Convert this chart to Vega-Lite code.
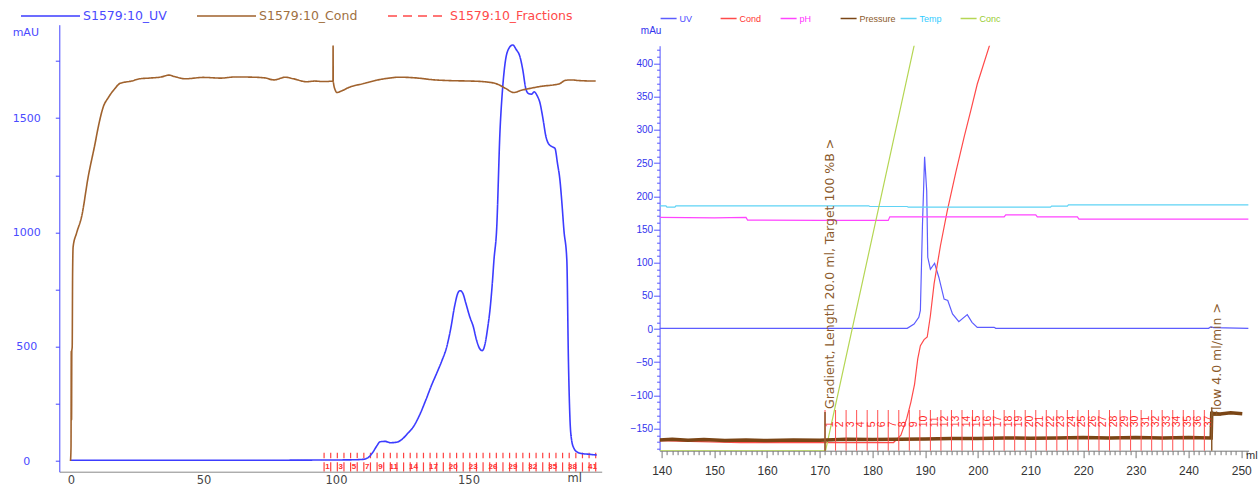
{
  "$schema": "https://vega.github.io/schema/vega-lite/v6.json",
  "autosize": {"type": "none"},
  "padding": {"left": 59.3, "top": 24.7, "right": 1199.7, "bottom": 461.3},
  "background": "white",
  "bounds": "flush",
  "center": true,
  "spacing": 57.3,
  "config": {
    "view": {"stroke": null},
    "axis": {"grid": false, "titleFontWeight": "normal", "labelFlush": false, "labelOverlap": false},
    "font": "Liberation Sans"
  },
  "resolve": {"scale": {"color": "independent", "strokeDash": "independent"}, "legend": {"color": "independent", "strokeDash": "independent"}},
  "datasets": {
    "left": [
      {"series": "S1579:10_UV", "ml": 0, "value": 3},
      {"series": "S1579:10_UV", "ml": 10, "value": 3},
      {"series": "S1579:10_UV", "ml": 30, "value": 3},
      {"series": "S1579:10_UV", "ml": 60, "value": 3},
      {"series": "S1579:10_UV", "ml": 90, "value": 4},
      {"series": "S1579:10_UV", "ml": 105, "value": 5},
      {"series": "S1579:10_UV", "ml": 110, "value": 7},
      {"series": "S1579:10_UV", "ml": 112, "value": 14},
      {"series": "S1579:10_UV", "ml": 114, "value": 40},
      {"series": "S1579:10_UV", "ml": 115.5, "value": 68},
      {"series": "S1579:10_UV", "ml": 116.6, "value": 84},
      {"series": "S1579:10_UV", "ml": 118.5, "value": 86},
      {"series": "S1579:10_UV", "ml": 120.5, "value": 80},
      {"series": "S1579:10_UV", "ml": 122.9, "value": 82},
      {"series": "S1579:10_UV", "ml": 125, "value": 96},
      {"series": "S1579:10_UV", "ml": 127, "value": 120},
      {"series": "S1579:10_UV", "ml": 129.2, "value": 150},
      {"series": "S1579:10_UV", "ml": 131.5, "value": 200},
      {"series": "S1579:10_UV", "ml": 134, "value": 270},
      {"series": "S1579:10_UV", "ml": 136, "value": 330},
      {"series": "S1579:10_UV", "ml": 138, "value": 384},
      {"series": "S1579:10_UV", "ml": 140, "value": 440},
      {"series": "S1579:10_UV", "ml": 141.8, "value": 500},
      {"series": "S1579:10_UV", "ml": 143.3, "value": 580},
      {"series": "S1579:10_UV", "ml": 144.8, "value": 680},
      {"series": "S1579:10_UV", "ml": 146, "value": 735},
      {"series": "S1579:10_UV", "ml": 146.8, "value": 745},
      {"series": "S1579:10_UV", "ml": 147.8, "value": 735},
      {"series": "S1579:10_UV", "ml": 149, "value": 690},
      {"series": "S1579:10_UV", "ml": 150.5, "value": 630},
      {"series": "S1579:10_UV", "ml": 151.8, "value": 588},
      {"series": "S1579:10_UV", "ml": 153, "value": 530},
      {"series": "S1579:10_UV", "ml": 154.2, "value": 492},
      {"series": "S1579:10_UV", "ml": 155.2, "value": 483},
      {"series": "S1579:10_UV", "ml": 156.2, "value": 510},
      {"series": "S1579:10_UV", "ml": 157.2, "value": 580},
      {"series": "S1579:10_UV", "ml": 158.1, "value": 661},
      {"series": "S1579:10_UV", "ml": 159, "value": 780},
      {"series": "S1579:10_UV", "ml": 159.6, "value": 879},
      {"series": "S1579:10_UV", "ml": 160.6, "value": 1010},
      {"series": "S1579:10_UV", "ml": 161.9, "value": 1448},
      {"series": "S1579:10_UV", "ml": 162.8, "value": 1620},
      {"series": "S1579:10_UV", "ml": 163.8, "value": 1740},
      {"series": "S1579:10_UV", "ml": 165, "value": 1800},
      {"series": "S1579:10_UV", "ml": 166.7, "value": 1820},
      {"series": "S1579:10_UV", "ml": 168, "value": 1800},
      {"series": "S1579:10_UV", "ml": 169.4, "value": 1769},
      {"series": "S1579:10_UV", "ml": 170.5, "value": 1710},
      {"series": "S1579:10_UV", "ml": 171.6, "value": 1630},
      {"series": "S1579:10_UV", "ml": 172.6, "value": 1608},
      {"series": "S1579:10_UV", "ml": 173.8, "value": 1605},
      {"series": "S1579:10_UV", "ml": 174.8, "value": 1615},
      {"series": "S1579:10_UV", "ml": 175.8, "value": 1600},
      {"series": "S1579:10_UV", "ml": 177, "value": 1565},
      {"series": "S1579:10_UV", "ml": 178.2, "value": 1490},
      {"series": "S1579:10_UV", "ml": 179.2, "value": 1420},
      {"series": "S1579:10_UV", "ml": 180.1, "value": 1390},
      {"series": "S1579:10_UV", "ml": 181.5, "value": 1375},
      {"series": "S1579:10_UV", "ml": 182.6, "value": 1368},
      {"series": "S1579:10_UV", "ml": 183.6, "value": 1300},
      {"series": "S1579:10_UV", "ml": 184.5, "value": 1229},
      {"series": "S1579:10_UV", "ml": 185.3, "value": 1120},
      {"series": "S1579:10_UV", "ml": 186, "value": 1010},
      {"series": "S1579:10_UV", "ml": 187.1, "value": 879},
      {"series": "S1579:10_UV", "ml": 187.7, "value": 442},
      {"series": "S1579:10_UV", "ml": 188.3, "value": 180},
      {"series": "S1579:10_UV", "ml": 188.9, "value": 92},
      {"series": "S1579:10_UV", "ml": 189.8, "value": 55},
      {"series": "S1579:10_UV", "ml": 190.8, "value": 41},
      {"series": "S1579:10_UV", "ml": 192.5, "value": 33},
      {"series": "S1579:10_UV", "ml": 195, "value": 30},
      {"series": "S1579:10_UV", "ml": 198.4, "value": 26},
      {"series": "S1579:10_Cond", "ml": -0.2, "value": 0},
      {"series": "S1579:10_Cond", "ml": 0.0, "value": 60},
      {"series": "S1579:10_Cond", "ml": 0.1, "value": 480},
      {"series": "S1579:10_Cond", "ml": 0.2, "value": 180},
      {"series": "S1579:10_Cond", "ml": 0.3, "value": 480},
      {"series": "S1579:10_Cond", "ml": 0.45, "value": 500},
      {"series": "S1579:10_Cond", "ml": 0.6, "value": 820},
      {"series": "S1579:10_Cond", "ml": 0.8, "value": 937},
      {"series": "S1579:10_Cond", "ml": 2.1, "value": 997},
      {"series": "S1579:10_Cond", "ml": 4.0, "value": 1069},
      {"series": "S1579:10_Cond", "ml": 6.5, "value": 1244},
      {"series": "S1579:10_Cond", "ml": 9.1, "value": 1390},
      {"series": "S1579:10_Cond", "ml": 10.3, "value": 1462},
      {"series": "S1579:10_Cond", "ml": 12.2, "value": 1550},
      {"series": "S1579:10_Cond", "ml": 14.1, "value": 1590},
      {"series": "S1579:10_Cond", "ml": 16.6, "value": 1630},
      {"series": "S1579:10_Cond", "ml": 18.5, "value": 1652},
      {"series": "S1579:10_Cond", "ml": 22.8, "value": 1662},
      {"series": "S1579:10_Cond", "ml": 26, "value": 1672},
      {"series": "S1579:10_Cond", "ml": 29.5, "value": 1675},
      {"series": "S1579:10_Cond", "ml": 34, "value": 1680},
      {"series": "S1579:10_Cond", "ml": 37, "value": 1688},
      {"series": "S1579:10_Cond", "ml": 39, "value": 1682},
      {"series": "S1579:10_Cond", "ml": 43, "value": 1672},
      {"series": "S1579:10_Cond", "ml": 50, "value": 1678},
      {"series": "S1579:10_Cond", "ml": 56.5, "value": 1675},
      {"series": "S1579:10_Cond", "ml": 62, "value": 1680},
      {"series": "S1579:10_Cond", "ml": 68.6, "value": 1679},
      {"series": "S1579:10_Cond", "ml": 73, "value": 1676},
      {"series": "S1579:10_Cond", "ml": 76.7, "value": 1667},
      {"series": "S1579:10_Cond", "ml": 80.8, "value": 1679},
      {"series": "S1579:10_Cond", "ml": 84, "value": 1672},
      {"series": "S1579:10_Cond", "ml": 88.8, "value": 1659},
      {"series": "S1579:10_Cond", "ml": 92, "value": 1662},
      {"series": "S1579:10_Cond", "ml": 95, "value": 1660},
      {"series": "S1579:10_Cond", "ml": 98.85, "value": 1662},
      {"series": "S1579:10_Cond", "ml": 98.9, "value": 1815},
      {"series": "S1579:10_Cond", "ml": 98.95, "value": 1662},
      {"series": "S1579:10_Cond", "ml": 99.8, "value": 1620},
      {"series": "S1579:10_Cond", "ml": 100.3, "value": 1612},
      {"series": "S1579:10_Cond", "ml": 102.3, "value": 1620},
      {"series": "S1579:10_Cond", "ml": 105, "value": 1635},
      {"series": "S1579:10_Cond", "ml": 110.4, "value": 1651},
      {"series": "S1579:10_Cond", "ml": 115, "value": 1665},
      {"series": "S1579:10_Cond", "ml": 120, "value": 1675},
      {"series": "S1579:10_Cond", "ml": 123.9, "value": 1679},
      {"series": "S1579:10_Cond", "ml": 130, "value": 1676},
      {"series": "S1579:10_Cond", "ml": 137.4, "value": 1667},
      {"series": "S1579:10_Cond", "ml": 143, "value": 1664},
      {"series": "S1579:10_Cond", "ml": 150.8, "value": 1662},
      {"series": "S1579:10_Cond", "ml": 155, "value": 1660},
      {"series": "S1579:10_Cond", "ml": 160.3, "value": 1651},
      {"series": "S1579:10_Cond", "ml": 164, "value": 1630},
      {"series": "S1579:10_Cond", "ml": 167, "value": 1612},
      {"series": "S1579:10_Cond", "ml": 170, "value": 1622},
      {"series": "S1579:10_Cond", "ml": 172.4, "value": 1628},
      {"series": "S1579:10_Cond", "ml": 178, "value": 1640},
      {"series": "S1579:10_Cond", "ml": 182, "value": 1645},
      {"series": "S1579:10_Cond", "ml": 184.5, "value": 1651},
      {"series": "S1579:10_Cond", "ml": 186.5, "value": 1665},
      {"series": "S1579:10_Cond", "ml": 188.6, "value": 1667},
      {"series": "S1579:10_Cond", "ml": 192, "value": 1664},
      {"series": "S1579:10_Cond", "ml": 198, "value": 1662}
    ],
    "leftFrac": [
      {"n": 1, "ml": 95.5}, {"n": 2, "ml": 98}, {"n": 3, "ml": 100.5}, {"n": 4, "ml": 103}, {"n": 5, "ml": 105.5},
      {"n": 6, "ml": 108}, {"n": 7, "ml": 110.5}, {"n": 8, "ml": 113}, {"n": 9, "ml": 115.5}, {"n": 10, "ml": 118},
      {"n": 11, "ml": 120.5}, {"n": 12, "ml": 123}, {"n": 13, "ml": 125.5}, {"n": 14, "ml": 128}, {"n": 15, "ml": 130.5},
      {"n": 16, "ml": 133}, {"n": 17, "ml": 135.5}, {"n": 18, "ml": 138}, {"n": 19, "ml": 140.5}, {"n": 20, "ml": 143},
      {"n": 21, "ml": 145.5}, {"n": 22, "ml": 148}, {"n": 23, "ml": 150.5}, {"n": 24, "ml": 153}, {"n": 25, "ml": 155.5},
      {"n": 26, "ml": 158}, {"n": 27, "ml": 160.5}, {"n": 28, "ml": 163}, {"n": 29, "ml": 165.5}, {"n": 30, "ml": 168},
      {"n": 31, "ml": 170.5}, {"n": 32, "ml": 173}, {"n": 33, "ml": 175.5}, {"n": 34, "ml": 178}, {"n": 35, "ml": 180.5},
      {"n": 36, "ml": 183}, {"n": 37, "ml": 185.5}, {"n": 38, "ml": 188}, {"n": 39, "ml": 190.5}, {"n": 40, "ml": 193},
      {"n": 41, "ml": 195.5}, {"n": 42, "ml": 198}
    ],
    "leftFracLabels": [
      {"n": "1", "ml": 96.75}, {"n": "3", "ml": 101.75}, {"n": "5", "ml": 106.75}, {"n": "7", "ml": 111.75},
      {"n": "9", "ml": 116.75}, {"n": "11", "ml": 121.75}, {"n": "14", "ml": 129.25}, {"n": "17", "ml": 136.75},
      {"n": "20", "ml": 144.25}, {"n": "23", "ml": 151.75}, {"n": "26", "ml": 159.25}, {"n": "29", "ml": 166.75},
      {"n": "32", "ml": 174.25}, {"n": "35", "ml": 181.75}, {"n": "38", "ml": 189.25}, {"n": "41", "ml": 196.75}
    ],
    "right": [
      {"series": "UV", "ml": 139.6, "value": 1}, {"series": "UV", "ml": 186.6, "value": 1},
      {"series": "UV", "ml": 187.9, "value": 7.5}, {"series": "UV", "ml": 188.8, "value": 17.6},
      {"series": "UV", "ml": 189.1, "value": 28}, {"series": "UV", "ml": 189.5, "value": 158},
      {"series": "UV", "ml": 189.9, "value": 259.5}, {"series": "UV", "ml": 190.3, "value": 208},
      {"series": "UV", "ml": 190.5, "value": 108}, {"series": "UV", "ml": 191.0, "value": 90},
      {"series": "UV", "ml": 191.8, "value": 99}, {"series": "UV", "ml": 192.6, "value": 78},
      {"series": "UV", "ml": 193.6, "value": 45}, {"series": "UV", "ml": 194.3, "value": 43},
      {"series": "UV", "ml": 195.2, "value": 22.6}, {"series": "UV", "ml": 196.4, "value": 11},
      {"series": "UV", "ml": 198.0, "value": 21.6}, {"series": "UV", "ml": 198.9, "value": 10},
      {"series": "UV", "ml": 199.9, "value": 2.5}, {"series": "UV", "ml": 203.1, "value": 2.5},
      {"series": "UV", "ml": 203.4, "value": 1}, {"series": "UV", "ml": 243.8, "value": 1},
      {"series": "UV", "ml": 244.2, "value": 3}, {"series": "UV", "ml": 244.8, "value": 2},
      {"series": "UV", "ml": 251.4, "value": 1},
      {"series": "Cond", "ml": 139.6, "value": -168}, {"series": "Cond", "ml": 155, "value": -171},
      {"series": "Cond", "ml": 184, "value": -171}, {"series": "Cond", "ml": 185.4, "value": -160},
      {"series": "Cond", "ml": 186.5, "value": -135}, {"series": "Cond", "ml": 187.3, "value": -110},
      {"series": "Cond", "ml": 188, "value": -83}, {"series": "Cond", "ml": 188.6, "value": -45},
      {"series": "Cond", "ml": 189.1, "value": -25}, {"series": "Cond", "ml": 189.8, "value": -16},
      {"series": "Cond", "ml": 190.4, "value": -12}, {"series": "Cond", "ml": 191, "value": 20},
      {"series": "Cond", "ml": 191.7, "value": 68}, {"series": "Cond", "ml": 192.9, "value": 125},
      {"series": "Cond", "ml": 194.2, "value": 178}, {"series": "Cond", "ml": 195.8, "value": 235},
      {"series": "Cond", "ml": 197.4, "value": 289}, {"series": "Cond", "ml": 198.7, "value": 330},
      {"series": "Cond", "ml": 199.9, "value": 369}, {"series": "Cond", "ml": 202.3, "value": 429},
      {"series": "pH", "ml": 139.6, "value": 168}, {"series": "pH", "ml": 150, "value": 167.5},
      {"series": "pH", "ml": 156, "value": 168}, {"series": "pH", "ml": 156.3, "value": 164},
      {"series": "pH", "ml": 170, "value": 163.5}, {"series": "pH", "ml": 183, "value": 163.5},
      {"series": "pH", "ml": 183.3, "value": 169}, {"series": "pH", "ml": 205, "value": 169},
      {"series": "pH", "ml": 205.3, "value": 172}, {"series": "pH", "ml": 211, "value": 172},
      {"series": "pH", "ml": 211.3, "value": 169}, {"series": "pH", "ml": 218.9, "value": 169},
      {"series": "pH", "ml": 219.2, "value": 165.5}, {"series": "pH", "ml": 251.4, "value": 165.5},
      {"series": "Temp", "ml": 139.6, "value": 185.5}, {"series": "Temp", "ml": 140.8, "value": 185.5},
      {"series": "Temp", "ml": 141, "value": 183.5}, {"series": "Temp", "ml": 142.5, "value": 183.5},
      {"series": "Temp", "ml": 142.7, "value": 185.5}, {"series": "Temp", "ml": 179.3, "value": 185.5},
      {"series": "Temp", "ml": 179.5, "value": 184.5}, {"series": "Temp", "ml": 186.6, "value": 184.5},
      {"series": "Temp", "ml": 186.8, "value": 183.5}, {"series": "Temp", "ml": 213.8, "value": 183.5},
      {"series": "Temp", "ml": 214, "value": 185}, {"series": "Temp", "ml": 217, "value": 185},
      {"series": "Temp", "ml": 217.2, "value": 187}, {"series": "Temp", "ml": 251.4, "value": 187},
      {"series": "Conc", "ml": 139.6, "value": -183.3}, {"series": "Conc", "ml": 171.1, "value": -183.3},
      {"series": "Conc", "ml": 188.0, "value": 430}
    ],
    "pressure": [
      {"series": "Pressure", "ml": 139.6, "value": -167}, {"series": "Pressure", "ml": 142, "value": -166},
      {"series": "Pressure", "ml": 145, "value": -167.5}, {"series": "Pressure", "ml": 148, "value": -166.5},
      {"series": "Pressure", "ml": 152, "value": -168}, {"series": "Pressure", "ml": 156, "value": -167},
      {"series": "Pressure", "ml": 160, "value": -168}, {"series": "Pressure", "ml": 165, "value": -167},
      {"series": "Pressure", "ml": 170, "value": -167.5}, {"series": "Pressure", "ml": 175, "value": -166},
      {"series": "Pressure", "ml": 180, "value": -166.5}, {"series": "Pressure", "ml": 185, "value": -166},
      {"series": "Pressure", "ml": 190, "value": -165.5}, {"series": "Pressure", "ml": 195, "value": -165},
      {"series": "Pressure", "ml": 200, "value": -165}, {"series": "Pressure", "ml": 205, "value": -164},
      {"series": "Pressure", "ml": 210, "value": -164.5}, {"series": "Pressure", "ml": 215, "value": -164},
      {"series": "Pressure", "ml": 220, "value": -163.5}, {"series": "Pressure", "ml": 225, "value": -164},
      {"series": "Pressure", "ml": 230, "value": -163.5}, {"series": "Pressure", "ml": 235, "value": -164},
      {"series": "Pressure", "ml": 240, "value": -163.5}, {"series": "Pressure", "ml": 244.3, "value": -164},
      {"series": "Pressure", "ml": 244.4, "value": -127}, {"series": "Pressure", "ml": 246, "value": -128},
      {"series": "Pressure", "ml": 248, "value": -126}, {"series": "Pressure", "ml": 250.2, "value": -127.5}
    ],
    "rightFrac": [
      {"n": "1", "ml": 171}, {"n": "2", "ml": 173}, {"n": "3", "ml": 175}, {"n": "4", "ml": 177}, {"n": "5", "ml": 179},
      {"n": "6", "ml": 181}, {"n": "7", "ml": 183}, {"n": "8", "ml": 185}, {"n": "9", "ml": 187}, {"n": "10", "ml": 189},
      {"n": "11", "ml": 191}, {"n": "12", "ml": 193}, {"n": "13", "ml": 195}, {"n": "14", "ml": 197}, {"n": "15", "ml": 199},
      {"n": "16", "ml": 201}, {"n": "17", "ml": 203}, {"n": "18", "ml": 205}, {"n": "19", "ml": 207}, {"n": "20", "ml": 209},
      {"n": "21", "ml": 211}, {"n": "22", "ml": 213}, {"n": "23", "ml": 215}, {"n": "24", "ml": 217}, {"n": "25", "ml": 219},
      {"n": "26", "ml": 221}, {"n": "27", "ml": 223}, {"n": "28", "ml": 225}, {"n": "29", "ml": 227}, {"n": "30", "ml": 229},
      {"n": "31", "ml": 231}, {"n": "32", "ml": 233}, {"n": "33", "ml": 235}, {"n": "34", "ml": 237}, {"n": "35", "ml": 239},
      {"n": "36", "ml": 241}, {"n": "37", "ml": 243}
    ],
    "gradient": [{"ml": 171.0, "label": "Gradient, Length 20.0 ml, Target 100 %B >"}],
    "flow": [{"ml": 244.4, "label": "Flow 4.0 ml/min >"}]
  },
  "hconcat": [
    {
      "width": 542.4,
      "height": 447,
      "layer": [
        {
          "data": {"name": "leftFrac"},
          "mark": {"type": "rule", "color": "#ff4040", "strokeWidth": 1.2},
          "encoding": {
            "x": {"field": "ml", "type": "quantitative"},
            "y": {"datum": 12},
            "y2": {"datum": 36}
          }
        },
        {
          "data": {"name": "leftFrac"},
          "mark": {"type": "rule", "color": "#ff4040", "strokeWidth": 1.2},
          "encoding": {
            "x": {"field": "ml", "type": "quantitative"},
            "y": {"datum": -46},
            "y2": {"datum": -6}
          }
        },
        {
          "data": {"name": "leftFracLabels"},
          "mark": {"type": "text", "color": "#ff3030", "fontSize": 8, "fontWeight": "bold", "baseline": "middle", "align": "center"},
          "encoding": {
            "x": {"field": "ml", "type": "quantitative"},
            "y": {"datum": -25},
            "text": {"field": "n"}
          }
        },
        {
          "data": {"name": "left"},
          "mark": {"type": "line", "strokeWidth": 1.6, "interpolate": "monotone"},
          "encoding": {
            "x": {
              "field": "ml", "type": "quantitative",
              "scale": {"domain": [-4.42, 200.26], "nice": false, "zero": false},
              "axis": {
                "values": [0, 50, 100, 150], "tickCount": 100, "title": "ml", "titleX": 515, "titleY": 7,
                "titleAlign": "center", "titleBaseline": "middle", "titleFont": "DejaVu Sans", "titleFontSize": 11.5, "titleColor": "#444",
                "labelColor": "#444", "labelFont": "DejaVu Sans", "labelFontSize": 11.5, "labelPadding": 3, "ticks": false,
                "domainColor": "#888", "labelOverlap": false, "labelFlush": false
              }
            },
            "y": {
              "field": "value", "type": "quantitative",
              "scale": {"domain": [-46.8, 1908.6], "nice": false, "zero": false},
              "axis": {
                "values": [0, 250, 500, 750, 1000, 1250, 1500, 1750], "tickCount": 100, "format": "d",
                "labelExpr": "datum.value % 500 == 0 ? datum.label : ''",
                "labelAlign": "center", "labelBaseline": "middle", "labelPadding": 29, "tickSize": 4,
                "tickColor": "#4444ff", "domainColor": "#4444ff", "labelColor": "#4a4aff",
                "labelFont": "DejaVu Sans", "labelFontSize": 11, "labelOverlap": false, "labelFlush": false,
                "title": "mAU", "titleAngle": 0, "titleX": -34, "titleY": 8, "titleAlign": "center",
                "titleBaseline": "middle", "titleFont": "DejaVu Sans", "titleFontSize": 11, "titleColor": "#4a4aff"
              }
            },
            "color": {
              "field": "series", "type": "nominal",
              "scale": {"domain": ["S1579:10_UV", "S1579:10_Cond", "S1579:10_Fractions"], "range": ["#3c3cff", "#a0622d", "#ff4a4a"]},
              "legend": {
                "orient": "none", "legendX": -39.3, "legendY": -39.2, "direction": "horizontal", "columns": 3,
                "title": null, "symbolType": "stroke", "symbolSize": 3481, "symbolStrokeWidth": 1.5,
                "labelOffset": 2, "columnPadding": 27, "labelFont": "DejaVu Sans", "labelFontSize": 12.5, "padding": 0,
                "labelColor": {"expr": "datum.label == 'S1579:10_UV' ? '#4a4aff' : datum.label == 'S1579:10_Cond' ? '#a0703f' : '#ff4a4a'"}
              }
            },
            "strokeDash": {
              "field": "series", "type": "nominal",
              "scale": {"domain": ["S1579:10_UV", "S1579:10_Cond", "S1579:10_Fractions"], "range": [[1, 0], [1, 0], [9, 6]]},
              "legend": {
                "orient": "none", "legendX": -39.3, "legendY": -39.2, "direction": "horizontal", "columns": 3,
                "title": null, "symbolType": "stroke", "symbolSize": 3481, "symbolStrokeWidth": 1.5,
                "labelOffset": 2, "columnPadding": 27, "labelFont": "DejaVu Sans", "labelFontSize": 12.5, "padding": 0,
                "labelColor": {"expr": "datum.label == 'S1579:10_UV' ? '#4a4aff' : datum.label == 'S1579:10_Cond' ? '#a0703f' : '#ff4a4a'"}
              }
            }
          }
        }
      ]
    },
    {
      "width": 589,
      "height": 405,
      "layer": [
        {
          "data": {"name": "right"},
          "mark": {"type": "line", "strokeWidth": 1.2, "clip": true},
          "encoding": {
            "x": {
              "field": "ml", "type": "quantitative",
              "scale": {"domain": [139.6, 251.4], "nice": false, "zero": false},
              "axis": {
                "values": [140,141,142,143,144,145,146,147,148,149,150,151,152,153,154,155,156,157,158,159,160,161,162,163,164,165,166,167,168,169,170,171,172,173,174,175,176,177,178,179,180,181,182,183,184,185,186,187,188,189,190,191,192,193,194,195,196,197,198,199,200,201,202,203,204,205,206,207,208,209,210,211,212,213,214,215,216,217,218,219,220,221,222,223,224,225,226,227,228,229,230,231,232,233,234,235,236,237,238,239,240,241,242,243,244,245,246,247,248,249,250,251],
                "tickCount": 1000, "format": "d",
                "labelExpr": "datum.value % 10 == 0 ? datum.label : ''",
                "tickSize": {"condition": {"test": "datum.value % 10 == 0", "value": 7}, "value": 4},
                "labelPadding": 8, "labelOverlap": false, "labelFlush": false,
                "labelFont": "Liberation Sans", "labelFontSize": 12, "labelColor": "#333", "tickColor": "#777", "domainColor": "#777",
                "title": "ml", "titleX": 586, "titleY": 5, "titleAlign": "left", "titleBaseline": "middle",
                "titleFont": "Liberation Sans", "titleFontSize": 11, "titleColor": "#333"
              }
            },
            "y": {
              "field": "value", "type": "quantitative",
              "scale": {"domain": [-183.3, 426.7], "nice": false, "zero": false},
              "axis": {
                "values": [-180,-170,-160,-150,-140,-130,-120,-110,-100,-90,-80,-70,-60,-50,-40,-30,-20,-10,0,10,20,30,40,50,60,70,80,90,100,110,120,130,140,150,160,170,180,190,200,210,220,230,240,250,260,270,280,290,300,310,320,330,340,350,360,370,380,390,400,410,420],
                "tickCount": 1000, "format": "d",
                "labelExpr": "datum.value % 50 == 0 ? datum.label : ''",
                "tickSize": {"condition": {"test": "datum.value % 50 == 0", "value": 6}, "value": 3},
                "labelPadding": 1, "labelOverlap": false, "labelFlush": false,
                "labelFont": "Liberation Sans", "labelFontSize": 10, "labelColor": "#3333ee", "tickColor": "#5555ff", "domainColor": "#5555ff",
                "title": "mAu", "titleAngle": 0, "titleX": -9, "titleY": -15, "titleAlign": "center", "titleBaseline": "middle",
                "titleFont": "Liberation Sans", "titleFontSize": 10, "titleColor": "#3333ee"
              }
            },
            "color": {
              "field": "series", "type": "nominal",
              "scale": {"domain": ["UV", "Cond", "pH", "Pressure", "Temp", "Conc"], "range": ["#5c5cff", "#ff4a4a", "#ff44ff", "#7a4515", "#5fd3f5", "#b5d654"]},
              "legend": {
                "orient": "none", "legendX": 0, "legendY": -36.2, "direction": "horizontal", "columns": 6, "gridAlign": "all",
                "title": null, "symbolType": "stroke", "symbolSize": 256, "symbolStrokeWidth": 1.5,
                "labelOffset": 2, "columnPadding": 1, "padding": 0,
                "labelFont": "Liberation Sans", "labelFontSize": 9,
                "labelColor": {"expr": "datum.label == 'UV' ? '#4a4aff' : datum.label == 'Cond' ? '#ff3333' : datum.label == 'pH' ? '#ff33ff' : datum.label == 'Pressure' ? '#8b5a2b' : datum.label == 'Temp' ? '#33ccff' : '#99cc33'"}
              }
            }
          }
        },
        {
          "data": {"name": "pressure"},
          "mark": {"type": "line", "strokeWidth": 3.5, "clip": true},
          "encoding": {
            "x": {"field": "ml", "type": "quantitative"},
            "y": {"field": "value", "type": "quantitative"},
            "color": {"field": "series", "type": "nominal"}
          }
        },
        {
          "data": {"name": "rightFrac"},
          "mark": {"type": "rule", "color": "#ff5050", "strokeWidth": 1},
          "encoding": {
            "x": {"field": "ml", "type": "quantitative"},
            "y": {"datum": -183.3},
            "y2": {"datum": -122}
          }
        },
        {
          "data": {"name": "rightFrac"},
          "mark": {"type": "text", "color": "#ff2a2a", "angle": 270, "align": "left", "baseline": "middle", "dy": 4.5,
                   "font": "Liberation Sans", "fontSize": 10.5},
          "encoding": {
            "x": {"field": "ml", "type": "quantitative"},
            "y": {"datum": -148},
            "text": {"field": "n"}
          }
        },
        {
          "data": {"name": "gradient"},
          "mark": {"type": "rule", "color": "#8b5a2b", "strokeWidth": 1.5},
          "encoding": {
            "x": {"field": "ml", "type": "quantitative"},
            "y": {"datum": -183.3},
            "y2": {"datum": -125}
          }
        },
        {
          "data": {"name": "gradient"},
          "mark": {"type": "text", "color": "#8b5a2b", "angle": 270, "align": "left", "baseline": "middle", "dy": 5,
                   "font": "DejaVu Sans", "fontSize": 12.5},
          "encoding": {
            "x": {"field": "ml", "type": "quantitative"},
            "y": {"datum": -120.5},
            "text": {"field": "label"}
          }
        },
        {
          "data": {"name": "flow"},
          "mark": {"type": "rule", "color": "#8b5a2b", "strokeWidth": 1.5},
          "encoding": {
            "x": {"field": "ml", "type": "quantitative"},
            "y": {"datum": -183.3},
            "y2": {"datum": -118}
          }
        },
        {
          "data": {"name": "flow"},
          "mark": {"type": "text", "color": "#8b5a2b", "angle": 270, "align": "left", "baseline": "middle", "dy": 5,
                   "font": "DejaVu Sans", "fontSize": 12.5},
          "encoding": {
            "x": {"field": "ml", "type": "quantitative"},
            "y": {"datum": -133},
            "text": {"field": "label"}
          }
        }
      ]
    }
  ]
}
